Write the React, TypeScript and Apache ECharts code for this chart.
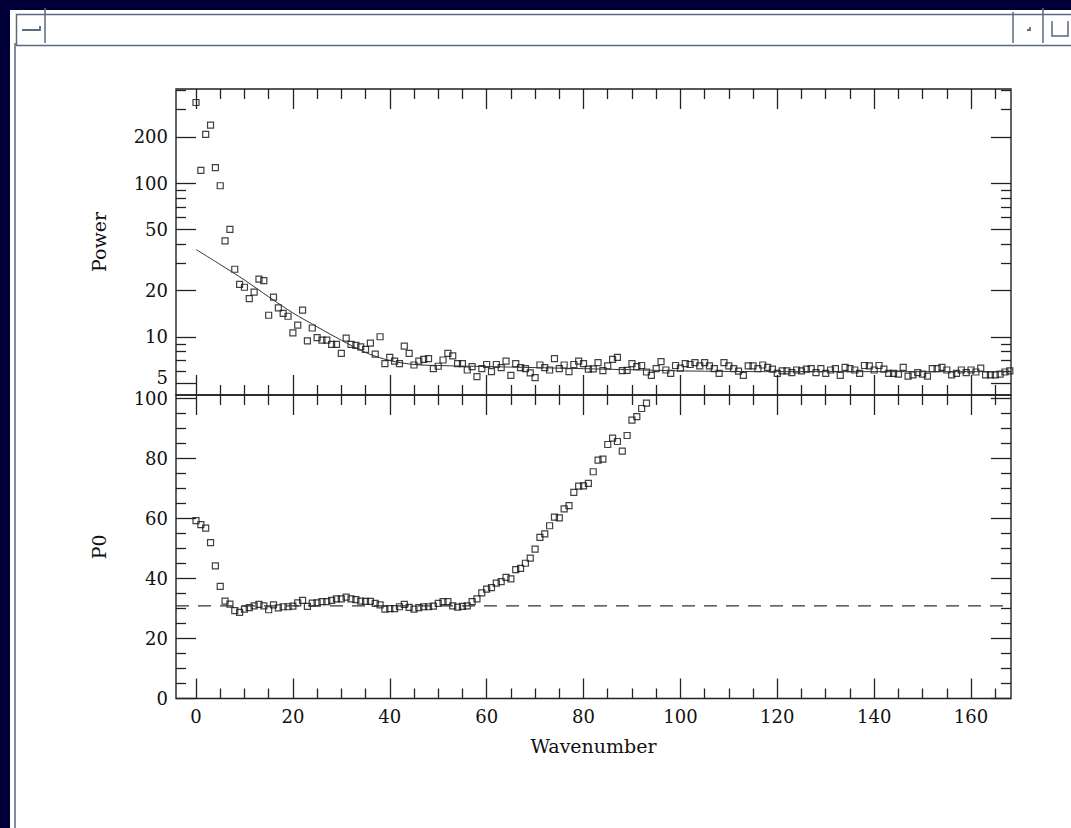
import React, { useEffect, useRef } from "react";
import * as echarts from "echarts";

// ---------- data ----------
const powerValues: number[] = [
  334, 121, 207, 238, 126, 96, 42, 50, 27.5, 21.9,
  21, 17.7, 19.5, 23.7, 23.2, 13.8, 18.1, 15.4, 14.2, 13.6,
  10.6, 11.9, 14.9, 9.4, 11.4, 9.86, 9.5, 9.5, 8.93, 8.93,
  7.8, 9.8, 8.93, 8.8, 8.6, 8.28, 9.1, 7.72, 10.0, 6.68,
  7.35, 6.95, 6.68, 8.7, 7.8, 6.55, 6.95, 7.13, 7.2, 6.2,
  6.43, 7.06, 7.8, 7.5, 6.68, 6.68, 6.08, 6.4, 5.5, 6.2,
  6.6, 5.93, 6.6, 6.3, 6.95, 5.6, 6.68, 6.3, 6.2, 5.83,
  5.42, 6.55, 6.3, 6.08, 7.2, 6.2, 6.55, 5.93, 6.6, 6.95,
  6.68, 6.15, 6.18, 6.79, 6.02, 6.46, 7.13, 7.35, 6.02, 6.05,
  6.68, 6.4, 6.5, 5.9, 5.6, 6.2, 6.9, 6.08, 5.78, 6.5,
  6.25, 6.68, 6.6, 6.79, 6.46, 6.78, 6.46, 6.2, 5.78, 6.78,
  6.46, 6.2, 5.98, 5.61, 6.46, 6.46, 6.2, 6.55, 6.33, 6.15,
  5.78, 6.0, 6.0, 5.85, 6.08, 6.0, 6.15, 6.2, 5.85, 6.2,
  5.78, 6.08, 6.2, 5.61, 6.33, 6.2, 6.08, 5.78, 6.5, 6.46,
  6.08, 6.5, 6.15, 5.78, 5.78, 5.72, 6.33, 5.55, 5.65, 5.85,
  5.72, 5.55, 6.2, 6.2, 6.33, 6.08, 5.65, 5.78, 6.08, 5.85,
  6.08, 5.9, 6.25, 5.65, 5.65, 5.65, 5.72, 5.9, 6.0,
];

const fitWavenumbers: number[] = [0, 5, 10, 15, 20, 25, 30, 35, 40, 45, 50, 60, 70, 80, 90, 100, 110, 120, 140, 168];
const fitPower: number[] = [37, 29.5, 23.4, 18.2, 14.3, 11.6, 9.5, 7.9, 7.0, 6.6, 6.5, 6.4, 6.3, 6.2, 6.1, 6.0, 5.95, 5.93, 5.93, 5.93];

const p0Values: number[] = [
  59.3, 58.0, 56.8, 52.0, 44.2, 37.4, 32.5, 31.5, 29.3, 28.7,
  29.8, 30.3, 30.9, 31.4, 30.9, 29.6, 31.2, 30.2, 30.6, 30.6,
  30.8, 31.9, 32.7, 30.7, 31.8, 31.9, 32.3, 32.3, 32.7, 33.2,
  33.2, 33.8, 33.2, 33.0, 32.5, 32.4, 32.4, 31.7, 31.2, 29.8,
  30.0, 30.0, 30.6, 31.4, 30.4, 29.8, 30.3, 30.6, 30.6, 30.8,
  31.7, 32.3, 32.3, 30.9, 30.5, 30.7, 30.9, 32.3, 33.2, 35.2,
  36.5, 37.0, 38.5, 39.0, 40.4, 39.9, 43.0, 43.4, 45.1, 46.8,
  49.8, 53.7, 54.9, 57.6, 60.5, 60.2, 63.2, 64.3, 68.7, 70.8,
  70.9, 71.7, 75.6, 79.5, 79.8, 84.7, 86.8, 85.7, 82.5, 87.7,
  92.8, 94.0, 96.7, 98.5,
];

const p0Reference = 30.9;

const xMajorTicks = [0, 20, 40, 60, 80, 100, 120, 140, 160];
const xMinorTicks = [5, 10, 15, 25, 30, 35, 45, 50, 55, 65, 70, 75, 85, 90, 95, 105, 110, 115, 125, 130, 135, 145, 150, 155, 165];
const powerMajorTicks = [5, 10, 20, 50, 100, 200];
const powerMinorTicks = [6, 7, 8, 9, 30, 40, 60, 70, 80, 90, 300, 400];
const p0MajorTicks = [0, 20, 40, 60, 80, 100];
const p0MinorTicks = [5, 10, 15, 25, 30, 35, 45, 50, 55, 65, 70, 75, 85, 90, 95];

// ---------- layout constants ----------
const X_MIN = -4.13;
const X_MAX = 168.25;
const POWER_MIN = 4.18;
const POWER_MAX = 409;
const P0_MIN = 0;
const P0_MAX = 101.2;

const INK = "#222222";
const NAVY = "#000038";
const FRAME = "#5a6a80";
const FONT = "DejaVu Serif";

const tickStyle = { color: INK, width: 1.3 };
const labelStyle = { color: "#111111", fontFamily: FONT, fontSize: 18 };
const nameStyle = { color: "#111111", fontFamily: FONT, fontSize: 19 };

function xAx(grid: number, pos: string, ticks: number[], len: number, labels = false, extra: any = {}) {
  return {
    type: "value",
    gridIndex: grid,
    position: pos,
    min: X_MIN,
    max: X_MAX,
    axisLine: { show: false, onZero: false },
    splitLine: { show: false },
    axisTick: { show: true, inside: true, length: len, customValues: ticks, lineStyle: tickStyle },
    axisLabel: labels ? { show: true, customValues: ticks, margin: 9, ...labelStyle } : { show: false },
    ...extra,
  };
}

function yAx(grid: number, pos: string, min: number, max: number, ticks: number[], len: number, labels = false, fmt?: (v: number) => string, extra: any = {}) {
  return {
    type: "value",
    gridIndex: grid,
    position: pos,
    min,
    max,
    axisLine: { show: false, onZero: false },
    splitLine: { show: false },
    axisTick: { show: true, inside: true, length: len, customValues: ticks, lineStyle: tickStyle },
    axisLabel: labels
      ? {
          show: true,
          customValues: ticks,
          margin: 8,
          formatter: fmt,
          ...labelStyle,
          rich: { lo: { ...labelStyle, padding: [0, 0, 12, 0] } },
        }
      : { show: false },
    ...extra,
  };
}

const lg = (v: number) => Math.log10(v);
const fmtPow = (v: number) => {
  const n = Math.round(Math.pow(10, v));
  return n === powerMajorTicks[0] ? `{lo|${n}}` : String(n);
};

export default function App() {
  const ref = useRef<HTMLDivElement>(null);
  useEffect(() => {
    if (!ref.current) return;
    const chart = echarts.init(ref.current, undefined, { renderer: "svg" });

    const pMaj = powerMajorTicks.map(lg);
    const pMin = powerMinorTicks.map(lg);

    const option: any = {
      animation: false,
      backgroundColor: "#ffffff",
      grid: [
        { left: 176, right: 60, top: 89, height: 306, show: true, borderColor: INK, borderWidth: 1.4, backgroundColor: "transparent" },
        { left: 176, right: 60, top: 395, height: 303.5, show: true, borderColor: INK, borderWidth: 1.4, backgroundColor: "transparent" },
      ],
      xAxis: [
        xAx(0, "bottom", xMajorTicks, 20),
        xAx(0, "bottom", xMinorTicks, 10),
        xAx(0, "top", xMajorTicks, 20),
        xAx(0, "top", xMinorTicks, 10),
        xAx(1, "bottom", xMajorTicks, 20, true, {
          name: "Wavenumber",
          nameLocation: "middle",
          nameGap: 38,
          nameTextStyle: nameStyle,
        }),
        xAx(1, "bottom", xMinorTicks, 10),
        xAx(1, "top", xMajorTicks, 20),
        xAx(1, "top", xMinorTicks, 10),
      ],
      yAxis: [
        yAx(0, "left", lg(POWER_MIN), lg(POWER_MAX), pMaj, 20, true, fmtPow, {
          name: "Power",
          nameLocation: "middle",
          nameGap: 68,
          nameRotate: 90,
          nameTextStyle: nameStyle,
        }),
        yAx(0, "left", lg(POWER_MIN), lg(POWER_MAX), pMin, 10),
        yAx(0, "right", lg(POWER_MIN), lg(POWER_MAX), pMaj, 20),
        yAx(0, "right", lg(POWER_MIN), lg(POWER_MAX), pMin, 10),
        yAx(1, "left", P0_MIN, P0_MAX, p0MajorTicks, 20, true, (v: number) => String(Math.round(v)), {
          name: "P0",
          nameLocation: "middle",
          nameGap: 68,
          nameRotate: 90,
          nameTextStyle: nameStyle,
        }),
        yAx(1, "left", P0_MIN, P0_MAX, p0MinorTicks, 10),
        yAx(1, "right", P0_MIN, P0_MAX, p0MajorTicks, 20),
        yAx(1, "right", P0_MIN, P0_MAX, p0MinorTicks, 10),
      ],
      series: [
        {
          type: "scatter",
          xAxisIndex: 0,
          yAxisIndex: 0,
          symbol: "rect",
          symbolSize: 6,
          itemStyle: { color: "rgba(0,0,0,0)", borderColor: "#111111", borderWidth: 1.2 },
          data: powerValues.map((v, i) => [i, lg(v)]),
        },
        {
          type: "line",
          xAxisIndex: 0,
          yAxisIndex: 0,
          showSymbol: false,
          smooth: 0.3,
          lineStyle: { color: "#333333", width: 1 },
          data: fitWavenumbers.map((x, i) => [x, lg(fitPower[i])]),
        },
        {
          type: "scatter",
          xAxisIndex: 4,
          yAxisIndex: 4,
          symbol: "rect",
          symbolSize: 6,
          itemStyle: { color: "rgba(0,0,0,0)", borderColor: "#111111", borderWidth: 1.2 },
          data: p0Values.map((v, i) => [i, v]),
        },
        {
          type: "line",
          xAxisIndex: 4,
          yAxisIndex: 4,
          showSymbol: false,
          lineStyle: { color: "#333333", width: 1.3, type: [13, 9] },
          data: [[X_MIN, p0Reference], [X_MAX, p0Reference]],
        },
      ],
      graphic: [
        { type: "rect", left: 0, top: 0, shape: { width: 1071, height: 10 }, style: { fill: NAVY }, z: 100 },
        { type: "rect", left: 0, top: 0, shape: { width: 10, height: 828 }, style: { fill: NAVY }, z: 100 },
        { type: "rect", left: 14, top: 12, shape: { width: 1070, height: 31 }, style: { fill: "none", stroke: FRAME, lineWidth: 1.5 }, z: 100 },
        { type: "line", shape: { x1: 45, y1: 8, x2: 45, y2: 43 }, style: { stroke: FRAME, lineWidth: 1.5 }, z: 100 },
        { type: "line", shape: { x1: 1013, y1: 12, x2: 1013, y2: 43 }, style: { stroke: FRAME, lineWidth: 1.5 }, z: 100 },
        { type: "line", shape: { x1: 1043, y1: 8, x2: 1043, y2: 43 }, style: { stroke: FRAME, lineWidth: 1.5 }, z: 100 },
        { type: "line", shape: { x1: 15, y1: 43, x2: 15, y2: 828 }, style: { stroke: FRAME, lineWidth: 1.5 }, z: 100 },
        { type: "polyline", shape: { points: [[22, 30], [40, 30], [40, 26]] }, style: { stroke: FRAME, lineWidth: 1.8, fill: "none" }, z: 100 },
        { type: "polyline", shape: { points: [[1027, 30], [1030, 30], [1030, 27]] }, style: { stroke: FRAME, lineWidth: 1.8, fill: "none" }, z: 100 },
        { type: "polyline", shape: { points: [[1052, 21], [1052, 36], [1068, 36], [1068, 21]] }, style: { stroke: FRAME, lineWidth: 1.5, fill: "none" }, z: 100 },
      ],
    };

    chart.setOption(option);
    return () => chart.dispose();
  }, []);

  return (
    <div
      ref={ref}
      style={{ position: "fixed", left: 0, top: 0, width: 1071, height: 828 }}
    />
  );
}
